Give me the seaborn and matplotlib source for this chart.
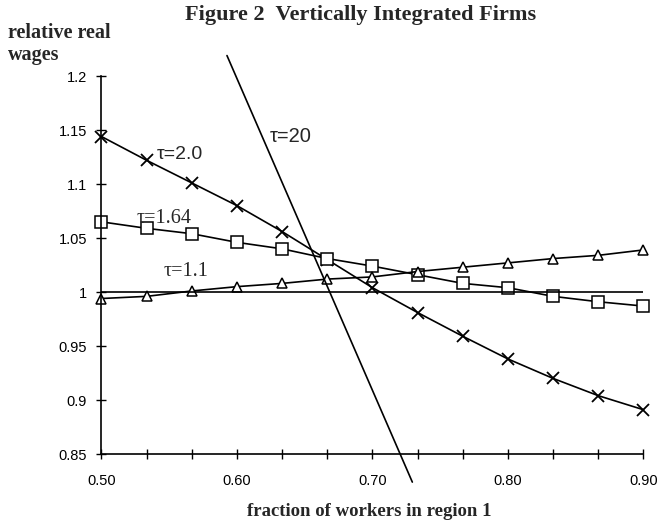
import matplotlib
matplotlib.use("Agg")
import matplotlib.pyplot as plt
import numpy as np
import pandas as pd
import seaborn as sns

# fraction of workers in region 1 (13 grid points, 1/30 apart)
share = [0.5, 0.5333, 0.5667, 0.6, 0.6333, 0.6667, 0.7,
         0.7333, 0.7667, 0.8, 0.8333, 0.8667, 0.9]

wage_tau_2_0 = [1.144, 1.122, 1.101, 1.080, 1.056, 1.030, 1.004,
                0.981, 0.959, 0.938, 0.920, 0.904, 0.891]
wage_tau_1_64 = [1.065, 1.059, 1.054, 1.046, 1.040, 1.031, 1.024,
                 1.016, 1.008, 1.004, 0.996, 0.991, 0.987]
wage_tau_1_1 = [0.994, 0.996, 1.001, 1.005, 1.008, 1.012, 1.014,
                1.019, 1.023, 1.027, 1.031, 1.034, 1.039]

# steep tau=20 line and the flat reference at 1
share_tau_20 = [0.5926, 0.7294]
wage_tau_20 = [1.219, 0.824]
share_flat = [0.5, 0.9]
wage_flat = [1.0, 1.0]

x_major = [0.5, 0.6, 0.7, 0.8, 0.9]
x_labels = ["0.50", "0.60", "0.70", "0.80", "0.90"]
y_ticks = [0.85, 0.9, 0.95, 1.0, 1.05, 1.1, 1.15, 1.2]
y_labels = ["0.85", "0.9", "0.95", "1", "1.05", "1.1", "1.15", "1.2"]

sns.set_style("ticks")
plt.rcParams["font.family"] = ["Liberation Sans", "DejaVu Sans"]

fig = plt.figure(figsize=(6.66, 5.32), dpi=100)
ax = fig.add_axes([0.1524, 0.1466, 0.8138, 0.7104])

df = pd.DataFrame({"share": share, "t20": wage_tau_2_0,
                   "t164": wage_tau_1_64, "t11": wage_tau_1_1})

sns.lineplot(data=df, x="share", y="t20", ax=ax, color="black", lw=1.2,
             marker="x", markersize=8, markeredgewidth=1.3,
             markeredgecolor="black", clip_on=False)
sns.lineplot(data=df, x="share", y="t164", ax=ax, color="black", lw=1.2,
             marker="s", markersize=8, markerfacecolor="white",
             markeredgecolor="black", markeredgewidth=1.1, clip_on=False)
sns.lineplot(data=df, x="share", y="t11", ax=ax, color="black", lw=1.2,
             marker="^", markersize=7, markerfacecolor="white",
             markeredgecolor="black", markeredgewidth=1.1, clip_on=False)
sns.lineplot(x=share_flat, y=wage_flat, ax=ax, color="black", lw=1.2)
sns.lineplot(x=share_tau_20, y=wage_tau_20, ax=ax, color="black", lw=1.2,
             clip_on=False)

ax.set_xlim(0.5, 0.9)
ax.set_ylim(0.85, 1.2)
ax.set_xticks(x_major)
ax.set_xticklabels(x_labels)
ax.set_xticks([v for v in share if round(v, 2) not in x_major], minor=True)
ax.set_yticks(y_ticks)
ax.set_yticklabels(y_labels)
ax.tick_params(axis="both", which="both", direction="inout", length=7,
               width=1, labelsize=10.5, colors="black")
ax.tick_params(axis="x", which="major", pad=11)
ax.tick_params(axis="y", pad=7)
sns.despine(ax=ax)
for s in ("left", "bottom"):
    ax.spines[s].set_linewidth(1.2)
    ax.spines[s].set_color("black")
ax.set_xlabel("")
ax.set_ylabel("")

serif = ["Liberation Serif", "DejaVu Serif"]
ax.text(0.541, 1.127, "τ=2.0", fontsize=14, va="center", ha="left")
ax.text(0.624, 1.144, "τ=20", fontsize=14.5, va="center", ha="left")
ax.text(0.526, 1.0685, "τ=1.64", fontsize=14.5, family=serif, va="center", ha="left")
ax.text(0.546, 1.019, "τ=1.1", fontsize=14.5, family=serif, va="center", ha="left")

fig.text(0.541, 0.972, "Figure 2  Vertically Integrated Firms", fontsize=16,
         fontweight="bold", family=serif, ha="center", va="center")
fig.text(0.012, 0.917, "relative real\nwages", fontsize=14.5, fontweight="bold",
         family=serif, ha="left", va="center", linespacing=1.1)
fig.text(0.554, 0.038, "fraction of workers in region 1", fontsize=13.5,
         fontweight="bold", family=serif, ha="center", va="center")

fig.savefig("out.png", dpi=100)
